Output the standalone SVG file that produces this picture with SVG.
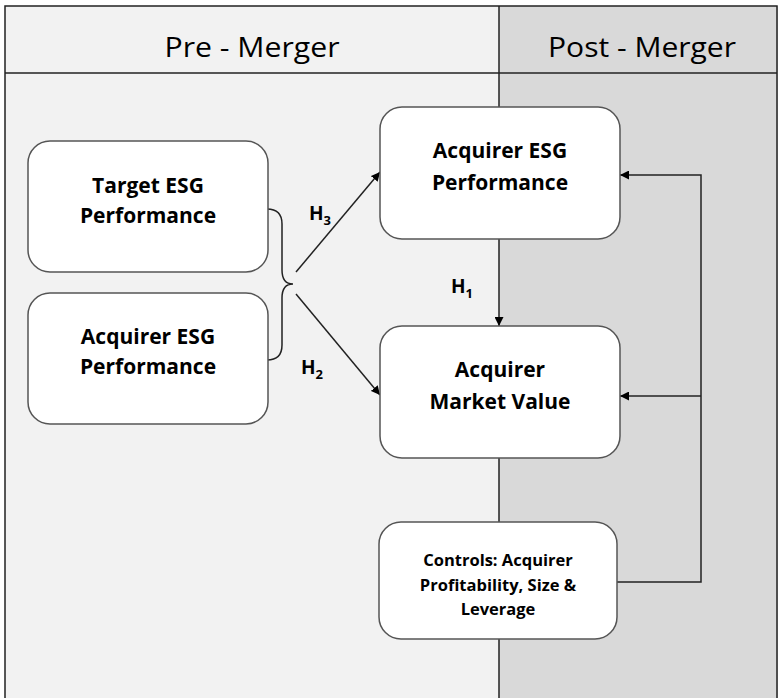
<svg xmlns="http://www.w3.org/2000/svg" width="778" height="698" viewBox="0 0 778 698">
<defs>
<style>
.node{fill:#fff;stroke:#555;stroke-width:1.5}
.t{font-family:"Open Sans","Liberation Sans",sans-serif;font-weight:bold;font-size:21px;fill:#000;text-anchor:middle}
.s{font-size:16.5px}
.h{font-family:"Open Sans","Liberation Sans",sans-serif;font-size:28px;fill:#000;text-anchor:middle}
.ln{fill:none;stroke:#222;stroke-width:1.5}
.lbl{font-family:"Open Sans","Liberation Sans",sans-serif;font-weight:bold;font-size:19px;fill:#000}
.sub{font-size:13px}
</style>
<marker id="ah" viewBox="0 0 10 10" refX="10" refY="5" markerWidth="9" markerHeight="9" markerUnits="userSpaceOnUse" orient="auto"><path d="M0,0 L10,5 L0,10 z" fill="#000"/></marker>
</defs>
<rect x="0" y="0" width="778" height="698" fill="#fff"/>
<g id="background">
<rect x="5" y="6" width="494" height="692" fill="#f2f2f2"/>
<rect x="499" y="6" width="279" height="692" fill="#d9d9d9"/>
<path d="M5,698 V6 H777 V698" class="ln" stroke="#333"/>
<line x1="5" y1="73" x2="777" y2="73" class="ln"/>
<line x1="499" y1="6" x2="499" y2="107" class="ln"/>
<text class="h" x="252" y="57" textLength="175" lengthAdjust="spacingAndGlyphs">Pre - Merger</text>
<text class="h" x="642" y="57" textLength="188" lengthAdjust="spacingAndGlyphs">Post - Merger</text>
</g>
<g id="connectors">
<path class="ln" d="M267,209 Q282,209 282,224 V270 Q282,284 293,284 Q282,284 282,298 V345 Q282,360 267,360"/>
<line class="ln" x1="296" y1="272" x2="380" y2="172" marker-end="url(#ah)"/>
<line class="ln" x1="296" y1="294" x2="380" y2="395" marker-end="url(#ah)"/>
<line class="ln" x1="499" y1="239" x2="499" y2="326" marker-end="url(#ah)"/>
<line class="ln" x1="499" y1="458" x2="499" y2="522"/>
<line class="ln" x1="499" y1="639" x2="499" y2="698"/>
<path class="ln" d="M617,582 H701 V175 H620" marker-end="url(#ah)"/>
<line class="ln" x1="701" y1="396" x2="620" y2="396" marker-end="url(#ah)"/>
<text class="lbl" x="309" y="220">H<tspan class="sub" dy="5">3</tspan></text>
<text class="lbl" x="301" y="374">H<tspan class="sub" dy="5">2</tspan></text>
<text class="lbl" x="451" y="293">H<tspan class="sub" dy="5">1</tspan></text>
</g>
<g id="target-esg">
<rect class="node" x="28" y="141" width="240" height="131" rx="22"/>
<text class="t" x="148" y="193">Target ESG</text>
<text class="t" x="148" y="223">Performance</text>
</g>
<g id="acquirer-esg-pre">
<rect class="node" x="28" y="293" width="240" height="131" rx="22"/>
<text class="t" x="148" y="344">Acquirer ESG</text>
<text class="t" x="148" y="374">Performance</text>
</g>
<g id="acquirer-esg-post">
<rect class="node" x="380" y="107" width="240" height="132" rx="22"/>
<text class="t" x="500" y="158">Acquirer ESG</text>
<text class="t" x="500" y="190">Performance</text>
</g>
<g id="market-value">
<rect class="node" x="380" y="326" width="240" height="132" rx="22"/>
<text class="t" x="500" y="377">Acquirer</text>
<text class="t" x="500" y="409">Market Value</text>
</g>
<g id="controls">
<rect class="node" x="379" y="522" width="238" height="117" rx="22"/>
<text class="t s" x="498" y="566">Controls: Acquirer</text>
<text class="t s" x="498" y="591">Profitability, Size &amp;</text>
<text class="t s" x="498" y="615">Leverage</text>
</g>
</svg>
